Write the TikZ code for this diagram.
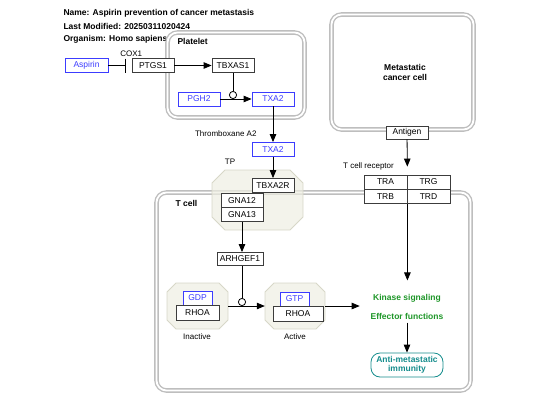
\documentclass[tikz,border=0pt]{standalone}
\usepackage{fontspec}
\setmainfont{Liberation Sans}
\usetikzlibrary{arrows.meta}

\definecolor{metblue}{RGB}{60,60,255}
\definecolor{boxgray}{RGB}{60,60,60}
\definecolor{compgray}{RGB}{190,190,190}
\definecolor{octfill}{RGB}{238,238,226}
\definecolor{octline}{RGB}{215,215,200}
\definecolor{kingreen}{RGB}{30,150,40}
\definecolor{teal}{RGB}{20,140,140}

% octagon: left, top, right, bottom, chamfer
\newcommand{\octpath}[5]{%
  \draw[octo] (#1+#5,#2) -- (#3-#5,#2) -- (#3,#2+#5) -- (#3,#4-#5) -- (#3-#5,#4)
    -- (#1+#5,#4) -- (#1,#4-#5) -- (#1,#2+#5) -- cycle;}

\tikzset{
  gene/.style={draw=boxgray, fill=white, line width=0.8pt, minimum width=42pt, minimum height=14pt, inner sep=0pt, font=\fontsize{8.5}{10}\selectfont},
  metab/.style={gene, draw=metblue, text=metblue},
  comp/.style={draw=compgray, line width=1.4pt, double=white, double distance=1.8pt, rounded corners=10pt},
  octo/.style={draw=octline, fill=octfill, fill opacity=0.7, line width=0.8pt},
  anchorbox/.style={inner sep=0pt, minimum width=#1},
  lbl/.style={font=\fontsize{8}{10}\selectfont},
  blbl/.style={font=\bfseries\fontsize{8.5}{10}\selectfont},
  arr/.style={-{Triangle[length=8pt,width=6.5pt]}, line width=0.8pt},
  inhib/.style={-{Bar[width=14pt]}, line width=0.8pt},
  cat/.style={-{Circle[open,length=8pt,fill=white]}, line width=0.8pt}
}

\begin{document}
\begin{tikzpicture}[x=1pt, y=-1pt]
  \useasboundingbox (0,0) rectangle (554,416);

  % title
  \node[blbl, anchor=west] (name) at (60,13.5) {Name: Aspirin prevention of cancer metastasis};
  \node[blbl, anchor=west] (modif) at (60,26) {Last Modified: 20250311020424};
  \node[blbl, anchor=west] (organism) at (60,39) {Organism: Homo sapiens};

  % compartments
  \draw[comp] (167.5,32.5) rectangle (304.5,117.5);
  \draw[comp] (331.5,14.5) rectangle (473.5,129.5);
  \draw[comp] (156.5,192.5) rectangle (470.5,390.5);
  \node[blbl, anchor=west] (platelet) at (174,41) {Platelet};
  \node[blbl, anchor=west] (tcell) at (172,203) {T cell};
  \node[blbl, align=center] (cancer) at (405,72.5) {Metastatic\\cancer cell};

  % octagons
  \octpath{212}{170}{303}{230}{13}
  \octpath{167}{283}{228}{329}{9}
  \octpath{265}{283}{325}{329}{9}
  \node[anchorbox=61pt, minimum height=46pt] (inactive) at (197.5,306) {};
  \node[anchorbox=60pt, minimum height=46pt] (active) at (295,306) {};

  % platelet side
  \node[metab, minimum width=43pt] (aspirin) at (86.5,65.5) {Aspirin};
  \node[gene, label={[lbl, yshift=-2pt]above left:COX1}] (ptgs1) at (153,65.5) {PTGS1};
  \node[gene] (tbxas1) at (233,65.5) {TBXAS1};
  \node[metab] (pgh2) at (199,99) {PGH2};
  \node[metab] (txa2) at (273,99) {TXA2};
  \coordinate (cat1) at (233,99);
  \node[lbl, anchor=east] (thromb) at (260,134) {Thromboxane A2};
  \node[metab] (txa2b) at (273,149.5) {TXA2};
  \node[lbl] (tplbl) at (230,162) {TP};

  % T cell side
  \node[gene] (tbxa2r) at (273,185.5) {TBXA2R};
  \node[gene] (gna12) at (242,200.5) {GNA12};
  \node[gene] (gna13) at (242,214.5) {GNA13};
  \node[gene, minimum width=46pt, minimum height=13pt] (arhgef1) at (240,259) {ARHGEF1};
  \node[metab, minimum width=29pt] (gdp) at (197.5,298) {GDP};
  \node[gene, minimum width=43pt, minimum height=15pt] (rhoa1) at (197.5,313) {RHOA};
  \node[metab, minimum width=29pt] (gtp) at (294.5,299) {GTP};
  \node[gene, minimum width=50pt, minimum height=15pt] (rhoa2) at (298,313.5) {RHOA};
  \node[lbl] (inlbl) at (197,337) {Inactive};
  \node[lbl] (actlbl) at (295,337) {Active};
  \coordinate (cat2) at (242,306);

  % cancer cell and receptor
  \node[gene, minimum height=13pt] (antigen) at (407,132.5) {Antigen};
  \node[lbl] (tcrlbl) at (368.5,166) {T cell receptor};
  \node[gene, minimum width=43pt] (tra) at (385.5,182) {TRA};
  \node[gene, minimum width=43pt] (trg) at (428.5,182) {TRG};
  \node[gene, minimum width=43pt] (trb) at (385.5,196.5) {TRB};
  \node[gene, minimum width=43pt] (trd) at (428.5,196.5) {TRD};

  \node[blbl, text=kingreen] (kinase) at (407,298) {Kinase signaling};
  \node[blbl, text=kingreen] (effector) at (407,316) {Effector functions};
  \node[blbl, draw=teal, text=teal, line width=0.8pt, rounded corners=9pt, align=center, minimum width=72pt, minimum height=24pt, inner sep=0pt] (anti) at (407,365) {Anti-metastatic\\[-1pt]immunity};

  % connectors
  \draw[inhib, shorten >=6pt] (aspirin) -- (ptgs1);
  \draw[arr] (ptgs1) -- (tbxas1);
  \draw[arr] (pgh2) -- (txa2);
  \draw[cat] (tbxas1) -- (cat1);
  \draw[arr] (txa2) -- (txa2b);
  \draw[arr] (txa2b) -- (tbxa2r);
  \draw[arr, shorten >=8pt] (antigen) -- (tra.north east);
  \draw[arr] (gna13) -- (gna13 |- arhgef1.north);
  \draw[arr] (inactive) -- (active);
  \draw[cat] (arhgef1.south -| cat2) -- (cat2);
  \draw[arr, shorten >=10pt] (active) -- (kinase.west |- active);
  \draw[arr, shorten >=10pt] (trb.south east) -- (kinase.north -| trb.south east);
  \draw[arr] (effector) -- (anti);
\end{tikzpicture}
\end{document}
